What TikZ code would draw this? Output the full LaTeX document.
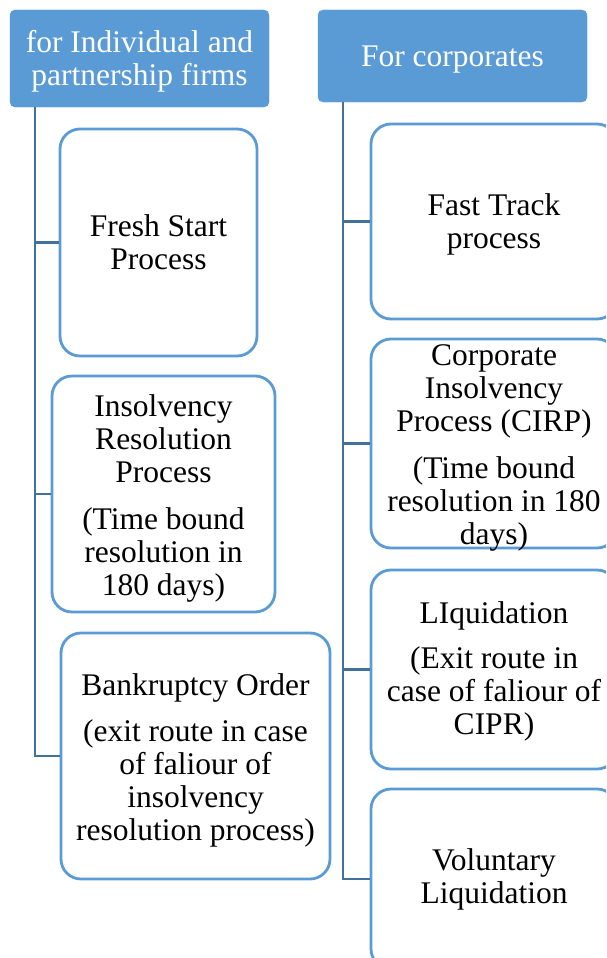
\documentclass[tikz,border=0pt]{standalone}
\usepackage{fontspec}
\setmainfont{Liberation Serif}
\definecolor{hdr}{HTML}{5B9BD5}
\definecolor{bord}{HTML}{5B9BD5}
\definecolor{lnk}{HTML}{41719C}
\tikzset{
  hdrbox/.style={draw=hdr, fill=hdr, rounded corners=5pt, inner sep=0pt},
  hdrtext/.style={text=white, align=center, inner sep=0pt, font=\fontsize{31.5}{33}\selectfont},
  itembox/.style={draw=bord, line width=2.8pt, fill=white, rounded corners=20pt, inner sep=0pt},
  itemtext/.style={align=center, inner sep=0pt, text=black, font=\fontsize{31.5}{33}\selectfont},
  conn/.style={draw=lnk, line width=2.8pt}
}
\begin{document}
\begin{tikzpicture}[x=1pt,y=-1pt]
\useasboundingbox (0,0) rectangle (606,958);
\clip (0,0) rectangle (606,958);
\fill[white] (0,0) rectangle (606,958);
% headers
\node[hdrbox, minimum width=259pt, minimum height=97pt] (h1) at (139.5,58.5) {};
\node[hdrtext] (h1t) at ([yshift=-3pt]h1.center) {for Individual and\\partnership firms};
\node[hdrbox, minimum width=269pt, minimum height=92pt] (h2) at (452.5,56) {};
\node[hdrtext] (h2t) at ([yshift=-4pt]h2.center) {For corporates};
% trunk coordinates
\coordinate (t1) at (35,107);
\coordinate (t2) at (343,102);
% left boxes
\node[itembox, minimum width=197pt, minimum height=227pt] (fs) at (158.5,242.5) {};
\node[itemtext] (fst) at (fs.center) {Fresh Start\\Process};
\node[itembox, minimum width=223pt, minimum height=236pt] (ir) at (163.5,494) {};
\node[itemtext] (irt) at ([yshift=-4pt]ir.center) {Insolvency\\Resolution\\Process\\[14pt](Time bound\\resolution in\\180 days)};
\node[itembox, minimum width=269pt, minimum height=246pt] (bo) at (195.5,756) {};
\node[itemtext] (bot) at ([yshift=-4pt]bo.center) {Bankruptcy Order\\[13pt](exit route in case\\of faliour of\\insolvency\\resolution process)};
% right boxes
\node[itembox, minimum width=246pt, minimum height=195pt] (ft) at (494,221.5) {};
\node[itemtext] (ftt) at ([yshift=-3pt]ft.center) {Fast Track\\process};
\node[itembox, minimum width=246pt, minimum height=209pt] (ci) at (494,443.5) {};
\node[itemtext] (cit) at ([yshift=-4pt]ci.center) {Corporate\\Insolvency\\Process (CIRP)\\[14pt](Time bound\\resolution in 180\\days)};
\node[itembox, minimum width=246pt, minimum height=199pt] (lq) at (494,669.5) {};
\node[itemtext] (lqt) at ([yshift=-2pt]lq.center) {LIquidation\\[12pt](Exit route in\\case of faliour of\\CIPR)};
\node[itembox, minimum width=246pt, minimum height=180pt] (vl) at (494,879) {};
\node[itemtext] (vlt) at (vl.center) {Voluntary\\Liquidation};
% connectors
\draw[conn] (t1) |- (bo.west);
\draw[conn] (t1 |- fs.west) -- (fs.west);
\draw[conn] (t1 |- ir.west) -- (ir.west);
\draw[conn] (t2) |- (vl.west);
\draw[conn] (t2 |- ft.west) -- (ft.west);
\draw[conn] (t2 |- ci.west) -- (ci.west);
\draw[conn] (t2 |- lq.west) -- (lq.west);
\end{tikzpicture}
\end{document}
